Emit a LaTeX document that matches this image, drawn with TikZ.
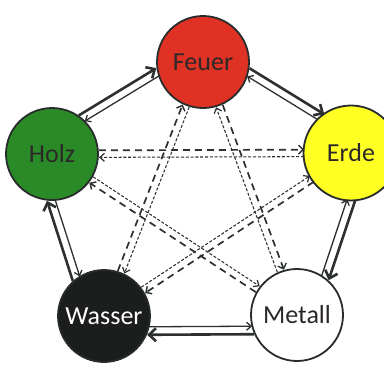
\documentclass[tikz,border=0pt]{standalone}
\usepackage{fontspec}
\setmainfont{Carlito}
\usetikzlibrary{arrows.meta,calc,backgrounds}
\definecolor{feuerc}{RGB}{224,50,36}
\definecolor{holzc}{RGB}{42,138,40}
\definecolor{erdec}{RGB}{255,255,36}
\definecolor{wasserc}{RGB}{28,30,30}
\definecolor{edgec}{RGB}{40,44,44}
\definecolor{linec}{RGB}{45,48,48}
\definecolor{darktext}{RGB}{45,40,40}
\newcommand\genpair[2]{%
  \draw[genthick] ($(#1.center)!19pt!90:(#2.center)$) -- ($(#2.center)!19pt!-90:(#1.center)$);
  \draw[genthin] ($(#2.center)!11pt!-90:(#1.center)$) -- ($(#1.center)!11pt!90:(#2.center)$);}
\newcommand\ctrlpair[2]{%
  \draw[ctrlthick] ($(#1.center)!3.5pt!90:(#2.center)$) -- ($(#2.center)!3.5pt!-90:(#1.center)$);
  \draw[ctrlthin] ($(#2.center)!3.5pt!90:(#1.center)$) -- ($(#1.center)!3.5pt!-90:(#2.center)$);}
\begin{document}
\begin{tikzpicture}[x=1pt,y=-1pt,
  elem/.style={circle, draw=edgec, line width=1.8pt, minimum size=92pt, inner sep=0pt,
    font=\fontsize{26}{30}\selectfont, text=darktext},
  genthick/.style={draw=linec, line width=2.6pt, -{Straight Barb[length=7pt,width=13pt]},
    shorten <=43pt, shorten >=43pt},
  genthin/.style={draw=linec, line width=1.3pt, -{Straight Barb[length=4.5pt,width=8pt]},
    shorten <=45pt, shorten >=45pt},
  ctrlthick/.style={draw=linec, line width=1.7pt, dash pattern=on 7pt off 5pt,
    -{Straight Barb[length=4.5pt,width=9pt,line width=1.4pt]},
    shorten <=47pt, shorten >=47pt},
  ctrlthin/.style={draw=linec, line width=1.05pt, dash pattern=on 3pt off 1.8pt,
    -{Straight Barb[length=4.5pt,width=8pt,line width=1.2pt]},
    shorten <=47pt, shorten >=47pt}]
\useasboundingbox (0,0) rectangle (384,367);
\clip (0,0) rectangle (384,367);
\node[elem, fill=feuerc] (feuer) at (203,62) {Feuer};
\node[elem, fill=holzc] (holz) at (52,154) {Holz};
\node[elem, fill=erdec, minimum size=95pt] (erde) at (351,153) {Erde};
\node[elem, fill=wasserc, text=white] (wasser) at (104,316) {Wasser};
\node[elem, fill=white] (metall) at (297,315) {Metall};
\begin{scope}[on background layer]
  \genpair{holz}{feuer}
  \genpair{feuer}{erde}
  \genpair{erde}{metall}
  \genpair{metall}{wasser}
  \genpair{wasser}{holz}
  \ctrlpair{holz}{erde}
  \ctrlpair{erde}{wasser}
  \ctrlpair{wasser}{feuer}
  \ctrlpair{feuer}{metall}
  \ctrlpair{metall}{holz}
\end{scope}
\end{tikzpicture}
\end{document}
